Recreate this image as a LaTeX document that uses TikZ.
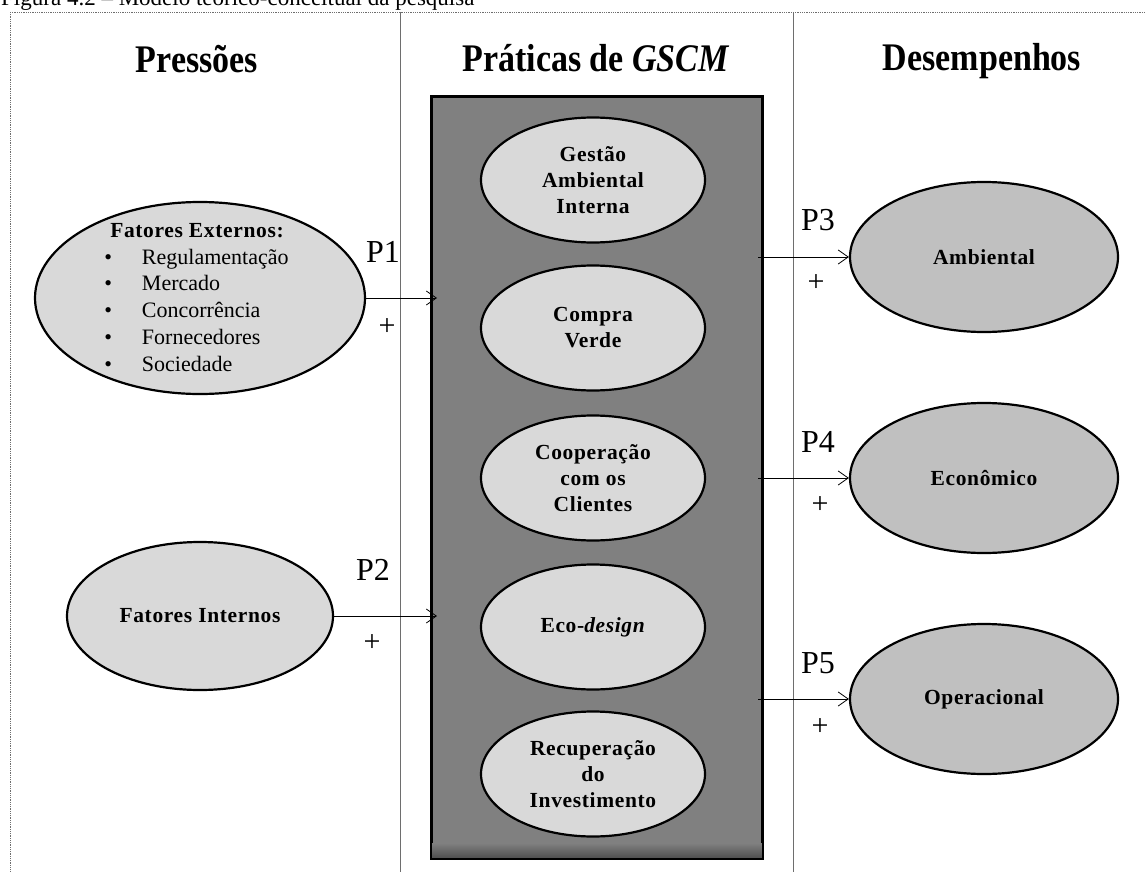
\documentclass[tikz,border=0pt]{standalone}
\usepackage{fontspec}
\setmainfont{Liberation Serif}
\newfontfamily\spacedserif{Liberation Serif}[LetterSpace=3.0]
\usetikzlibrary{shapes.geometric,arrows.meta,calc}
\definecolor{boxgray}{HTML}{808080}
\definecolor{lightfill}{HTML}{D9D9D9}
\definecolor{midfill}{HTML}{C0C0C0}
\definecolor{linegray}{HTML}{6E6E6E}
\begin{document}
\begin{tikzpicture}[x=1pt,y=-1pt,
  heading/.style={font=\fontsize{34}{40}\selectfont\bfseries, anchor=base, inner sep=0pt},
  ell/.style={ellipse, draw=black, line width=2.2pt, inner sep=0pt, align=center,
    font=\spacedserif\bfseries\fontsize{21.5}{26}\selectfont},
  practice/.style={ell, fill=lightfill, minimum width=224pt, minimum height=125pt},
  perf/.style={ell, fill=midfill, minimum width=268pt, minimum height=150pt},
  plabel/.style={font=\fontsize{32}{32}\selectfont, inner sep=0pt},
  plus/.style={font=\fontsize{30}{30}\selectfont, inner sep=0pt},
  conn/.style={line width=0.8pt, -{Straight Barb[length=10pt,width=14pt,line width=0.8pt]}},
]
\useasboundingbox (0,0) rectangle (1145,872);
% caption (cut at top, as in the reference)
\node[anchor=base west, inner sep=0pt, font=\fontsize{23}{23}\selectfont] (cap) at (1,6) {Figura 4.2 – Modelo teórico-conceitual da pesquisa};
% frame and column separators
\draw[linegray, densely dotted, line width=0.8pt] (10,12) rectangle (1165,895);
\draw[linegray, line width=1pt] (400,12) -- (400,880);
\draw[linegray, line width=1pt] (793,12) -- (793,880);
% headings
\node[heading] (h1) at (197,73) {\scalebox{1}[1.15]{Pressões}};
\node[heading] (h2) at (596,72) {\scalebox{1}[1.15]{Práticas de \textit{GSCM}}};
\node[heading] (h3) at (982,71) {\scalebox{1}[1.15]{Desempenhos}};
% central box
\node[draw=black, line width=2pt, fill=boxgray, minimum width=330pt, minimum height=761pt, inner sep=0pt] (box) at (597,477.5) {};
\shade[top color=boxgray, bottom color=black!70] ([xshift=1pt,yshift=16pt]box.south west) rectangle ([xshift=-1pt]box.south east);
\draw[line width=2pt] (box.south west) rectangle (box.north east);
% practices
\node[practice] (gai) at (593,180) {Gestão\\Ambiental\\Interna};
\node[practice] (cv) at (593,328) {Compra\\Verde};
\node[practice] (cc) at (593,478) {Cooperação\\com os\\Clientes};
\node[practice] (eco) at (593,627) {Eco-\textit{design}};
\node[practice] (ri) at (593,774) {Recuperação\\do\\Investimento};
% pressures
\node[ell, fill=lightfill, minimum width=330pt, minimum height=192pt] (ext) at (200,298) {};
\node[inner sep=0pt, font=\fontsize{22}{26.7}\selectfont] (exttext) at (197,299) {%
  \begin{tabular}{@{}l@{\hspace{30pt}}l@{}}
  \multicolumn{2}{c}{\spacedserif\bfseries\fontsize{21.5}{26.7}\selectfont Fatores Externos:}\\
  • & Regulamentação\\
  • & Mercado\\
  • & Concorrência\\
  • & Fornecedores\\
  • & Sociedade
  \end{tabular}};
\node[ell, fill=lightfill, minimum width=266pt, minimum height=148pt] (int) at (200,616) {Fatores Internos};
% performances
\node[perf] (amb) at (984,257) {Ambiental};
\node[perf] (econ) at (984,478) {Econômico};
\node[perf] (oper) at (984,699) {Operacional};
% connectors
\draw[conn] (ext.east) -- ($(ext.east -| box.west)+(6,0)$);
\draw[conn] (int.east) -- ($(int.east -| box.west)+(6,0)$);
\draw[conn] ($(amb.west -| box.east)+(-5,0)$) -- (amb.west);
\draw[conn] ($(econ.west -| box.east)+(-5,0)$) -- (econ.west);
\draw[conn] ($(oper.west -| box.east)+(-5,0)$) -- (oper.west);
% labels
\node[plabel] (p1) at (383,252) {P1};
\node[plus] (s1) at (387,327) {+};
\node[plabel] (p2) at (373,570) {P2};
\node[plus] (s2) at (372,643) {+};
\node[plabel] (p3) at (818,220) {P3};
\node[plus] (s3) at (816,283) {+};
\node[plabel] (p4) at (818,442) {P4};
\node[plus] (s4) at (820,505) {+};
\node[plabel] (p5) at (818,663) {P5};
\node[plus] (s5) at (820,727) {+};
\end{tikzpicture}
\end{document}
